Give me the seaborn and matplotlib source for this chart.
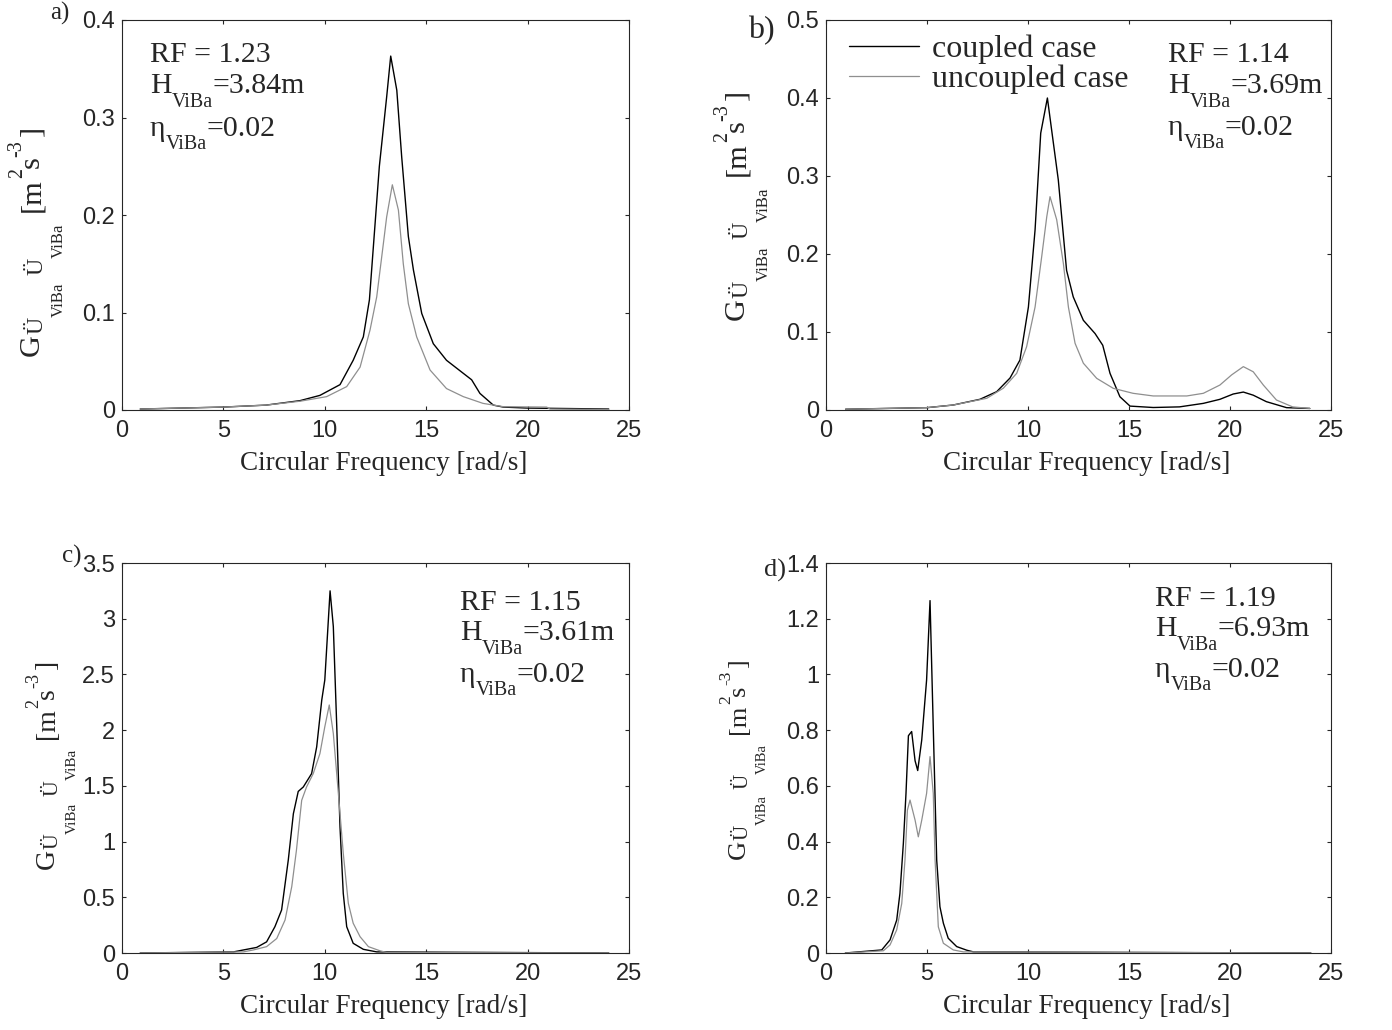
import numpy as np
import pandas as pd
import matplotlib
matplotlib.use("Agg")
import matplotlib.pyplot as plt
import matplotlib.transforms as mtrans
import seaborn as sns

# ---------------- data ----------------
a_cpl_x = [0.9, 5.0, 7.1, 8.78, 9.76, 10.75, 11.4, 11.9, 12.2, 12.69, 13.05, 13.25, 13.55, 13.79, 14.12,
           14.37, 14.78, 15.35, 16.0, 16.83, 17.24, 17.65, 18.31, 18.8, 19.96, 24.0]
a_cpl_y = [0.001, 0.003, 0.005, 0.0096, 0.015, 0.026, 0.051, 0.075, 0.113, 0.25, 0.321, 0.363, 0.328, 0.26, 0.178,
           0.1436, 0.099, 0.068, 0.051, 0.0376, 0.031, 0.017, 0.005, 0.003, 0.002, 0.001]
a_unc_x = [0.9, 5.0, 7.1, 8.78, 10.09, 11.08, 11.74, 12.23, 12.56, 12.89, 13.05, 13.33, 13.63, 13.87, 14.12,
           14.53, 15.19, 16.0, 16.83, 17.8, 18.8, 20.94, 21.1, 24.0]
a_unc_y = [0.001, 0.003, 0.005, 0.009, 0.0137, 0.024, 0.044, 0.082, 0.116, 0.171, 0.198, 0.231, 0.205, 0.150, 0.109,
           0.075, 0.041, 0.022, 0.0137, 0.0068, 0.0034, 0.003, 0.001, 0.0005]

b_cpl_x = [0.97, 5.0, 6.3, 7.62, 8.45, 9.11, 9.6, 10.02, 10.35, 10.63, 10.96, 11.17, 11.5, 11.91, 12.24, 12.74,
           13.32, 13.7, 14.06, 14.55, 15.05, 16.2, 17.5, 18.68, 19.5, 20.16, 20.66, 21.15, 21.8, 22.8, 23.95]
b_cpl_y = [0.001, 0.003, 0.0064, 0.0137, 0.0235, 0.041, 0.064, 0.132, 0.231, 0.355, 0.40, 0.359, 0.295, 0.179, 0.145,
           0.115, 0.098, 0.083, 0.047, 0.017, 0.005, 0.0032, 0.004, 0.0085, 0.0137, 0.0205, 0.023, 0.019, 0.0107,
           0.003, 0.002]
b_unc_x = [0.97, 5.0, 6.3, 7.96, 8.78, 9.44, 9.93, 10.35, 10.68, 10.93, 11.09, 11.42, 11.75, 12.0, 12.33, 12.74,
           13.4, 14.22, 15.2, 16.2, 17.86, 18.68, 19.5, 20.08, 20.66, 21.15, 21.65, 22.3, 23.1, 23.95]
b_unc_y = [0.001, 0.003, 0.0064, 0.015, 0.028, 0.047, 0.081, 0.132, 0.197, 0.248, 0.2735, 0.244, 0.188, 0.132,
           0.0855, 0.06, 0.0406, 0.0278, 0.0214, 0.018, 0.018, 0.0214, 0.032, 0.045, 0.0556, 0.049, 0.032, 0.0128,
           0.004, 0.002]

c_cpl_x = [0.9, 5.5, 5.98, 6.64, 7.13, 7.54, 7.87, 8.2, 8.45, 8.69, 8.94, 9.35, 9.6, 9.85, 10.0, 10.26, 10.42,
           10.59, 10.75, 10.91, 11.08, 11.4, 11.9, 12.56, 24.0]
c_cpl_y = [0.0, 0.01, 0.027, 0.05, 0.10, 0.236, 0.386, 0.835, 1.25, 1.45, 1.49, 1.61, 1.85, 2.27, 2.45, 3.25, 2.93,
           2.03, 1.13, 0.536, 0.236, 0.087, 0.033, 0.01, 0.0]
c_unc_x = [0.9, 5.98, 6.47, 7.13, 7.63, 8.04, 8.37, 8.6, 8.86, 9.1, 9.43, 9.76, 10.0, 10.22, 10.42, 10.67, 10.91,
           11.16, 11.4, 11.74, 12.15, 12.72, 13.05, 24.0]
c_unc_y = [0.0, 0.01, 0.027, 0.057, 0.13, 0.296, 0.595, 0.92, 1.37, 1.49, 1.61, 1.79, 2.03, 2.226, 1.97, 1.43, 0.895,
           0.446, 0.267, 0.146, 0.057, 0.02, 0.005, 0.0]

d_cpl_x = [0.96, 2.76, 3.17, 3.5, 3.66, 3.83, 3.96, 4.08, 4.24, 4.41, 4.54, 4.74, 4.98, 5.15, 5.31, 5.48, 5.64,
           5.81, 6.05, 6.47, 6.97, 7.3, 24.0]
d_cpl_y = [0.0, 0.011, 0.047, 0.118, 0.214, 0.394, 0.573, 0.78, 0.795, 0.69, 0.655, 0.765, 0.98, 1.265, 0.81, 0.334,
           0.166, 0.107, 0.053, 0.023, 0.01, 0.004, 0.0]
d_unc_x = [0.96, 2.84, 3.17, 3.5, 3.75, 3.91, 4.03, 4.16, 4.41, 4.57, 4.74, 4.98, 5.15, 5.31, 5.4, 5.56, 5.81, 6.3,
           6.8, 24.0]
d_unc_y = [0.0, 0.008, 0.029, 0.083, 0.178, 0.334, 0.513, 0.549, 0.477, 0.417, 0.477, 0.573, 0.705, 0.573, 0.334,
           0.094, 0.035, 0.011, 0.004, 0.0]

panel_letters = ["a)", "b)", "c)", "d)"]
rf_values = ["1.23", "1.14", "1.15", "1.19"]
h_values = ["3.84", "3.69", "3.61", "6.93"]
eta_values = ["0.02", "0.02", "0.02", "0.02"]
y_maxes = [0.4, 0.5, 3.5, 1.4]
y_steps = [0.1, 0.1, 0.5, 0.2]
x_ticks = [0, 5, 10, 15, 20, 25]
legend_labels = ["coupled case", "uncoupled case"]
xlabel_text = "Circular Frequency [rad/s]"

series = [(a_cpl_x, a_cpl_y, a_unc_x, a_unc_y),
          (b_cpl_x, b_cpl_y, b_unc_x, b_unc_y),
          (c_cpl_x, c_cpl_y, c_unc_x, c_unc_y),
          (d_cpl_x, d_cpl_y, d_unc_x, d_unc_y)]

# ---------------- style ----------------
sns.set_style("ticks")
plt.rcParams["font.family"] = ["Liberation Sans", "DejaVu Sans"]
plt.rcParams["axes.linewidth"] = 0.8
SERIF = ["Liberation Serif", "DejaVu Serif"]

W, H = 1392, 1030
fig = plt.figure(figsize=(W / 100, H / 100), dpi=100)
renderer = fig.canvas.get_renderer()
PIX = mtrans.IdentityTransform()


def hpieces(x, ytop, pieces):
    """Horizontal run of text pieces; (text, size, dy_px_down). ytop measured from top."""
    cur = x
    for txt, size, dy in pieces:
        t = fig.text(cur, H - (ytop + dy), txt, fontsize=size, family=SERIF,
                     ha="left", va="baseline", transform=PIX)
        cur += t.get_window_extent(renderer).width


def vpieces(xbase, ycenter_top, pieces):
    """Rotated (90 deg) run of pieces; (text, size, shift_right_px, gap_before_px)."""
    items = []
    total = 0.0
    for txt, size, dx, gap in pieces:
        t = fig.text(0, 0, txt, fontsize=size, family=SERIF, rotation=90,
                     rotation_mode="anchor", ha="left", va="baseline", transform=PIX)
        L = t.get_window_extent(renderer).height
        items.append((t, dx, gap, L))
        total += gap + L
    cur = (H - ycenter_top) - total / 2.0
    for t, dx, gap, L in items:
        cur += gap
        t.set_position((xbase + dx, cur))
        cur += L


boxes = [(122, 20, 629, 410), (826, 20, 1331, 410),
         (122, 563, 629, 953), (826, 563, 1331, 953)]

# annotation: left x, baselines for the three lines (pixels from top)
ann_px = [(150, 62, 93, 136), (1168, 62, 93, 135), (460, 610, 640, 682), (1155, 606, 636, 677)]
letter_pos = [(50, 20, 18), (748, 38, 23), (62, 563, 18), (764, 577, 19)]
# ylabel: baseline x offset from axes left, centre from top, scale
ylab_pos = [(-83, 241, 1.15), (-82, 205, 1.15), (-68, 765, 1.05), (-81, 759, 1.0)]

for i, (l, t, r, b) in enumerate(boxes):
    ax = fig.add_axes([l / W, 1 - b / H, (r - l) / W, (b - t) / H])
    cx, cy, ux, uy = series[i]
    sns.lineplot(x=cx, y=cy, ax=ax, color="black", linewidth=1.0, estimator=None, sort=False,
                 label=legend_labels[0] if i == 1 else None, legend=False)
    sns.lineplot(x=ux, y=uy, ax=ax, color="#8f8f8f", linewidth=0.9, estimator=None, sort=False,
                 label=legend_labels[1] if i == 1 else None, legend=False)
    ax.set_xlim(0, 25)
    ax.set_ylim(0, y_maxes[i])
    ax.set_xticks(x_ticks)
    yt = np.round(np.arange(0, y_maxes[i] + 1e-9, y_steps[i]), 3)
    ax.set_yticks(yt)
    ax.set_yticklabels(["%g" % v for v in yt])
    ax.set_xticklabels(["%g" % v for v in x_ticks])
    ax.tick_params(direction="in", top=True, right=True, length=3, width=0.8, labelsize=17)
    ax.tick_params(axis="x", pad=7)
    ax.tick_params(axis="y", pad=5)
    for s in ax.spines.values():
        s.set_visible(True)
        s.set_linewidth(0.8)

    ax.set_xlabel(xlabel_text, fontsize=19.5, family=SERIF)
    ax.xaxis.set_label_coords(0.517, -0.105)
    ax.set_ylabel("")

    # y label built from pieces (MATLAB-like sub/superscripts)
    ox, cyl, sc = ylab_pos[i]
    vpieces(l + ox, cyl, [
        ("G", 19 * sc, 0, 0),
        ("Ü", 15 * sc, 3 * sc, 0),
        ("ViBa", 10.5 * sc, 21 * sc, 0),
        ("Ü", 15 * sc, 3 * sc, 6 * sc),
        ("ViBa", 10.5 * sc, 21 * sc, 0),
        ("[m", 19 * sc, 0, 10 * sc),
        ("2", 12.5 * sc, -15 * sc, 0),
        ("s", 19 * sc, 0, 0),
        ("-3", 12.5 * sc, -15 * sc, 0),
        ("]", 19 * sc, 0, 3 * sc),
    ])

    # annotation block
    ax_x, b1, b2, b3 = ann_px[i]
    hpieces(ax_x, b1, [("RF = " + rf_values[i], 21.5, 0)])
    hpieces(ax_x, b2, [("H", 21.5, 0), ("ViBa", 14.5, 14), ("=" + h_values[i] + "m", 21.5, 0)])
    hpieces(ax_x, b3, [("η", 21.5, 0), ("ViBa", 14.5, 13), ("=" + eta_values[i], 21.5, 0)])

    if i == 1:
        ax.legend(loc="upper left", bbox_to_anchor=(0.02, 0.995), frameon=False,
                  prop={"family": SERIF, "size": 23}, handlelength=2.2, handletextpad=0.4,
                  labelspacing=0.0, borderaxespad=0.0)

    lx, lb, ls = letter_pos[i]
    fig.text(lx / W, 1 - lb / H, panel_letters[i], fontsize=ls, family=SERIF, va="baseline", ha="left")

fig.savefig("out.png", dpi=100)
